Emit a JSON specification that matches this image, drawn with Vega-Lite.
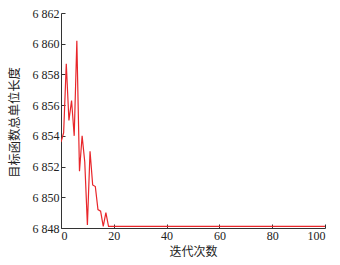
{
  "$schema": "https://vega.github.io/schema/vega-lite/v6.json",
  "width": 264,
  "height": 215,
  "autosize": {"type": "none"},
  "padding": {"left": 61, "top": 13, "right": 15, "bottom": 37},
  "background": "white",
  "config": {"view": {"stroke": null}},
  "data": {"values": [
    {"iter": 0, "len": 6853.6},
    {"iter": 1, "len": 6854.2},
    {"iter": 2, "len": 6858.7},
    {"iter": 3, "len": 6855.0},
    {"iter": 4, "len": 6856.3},
    {"iter": 5, "len": 6854.0},
    {"iter": 6, "len": 6860.2},
    {"iter": 7, "len": 6851.7},
    {"iter": 8, "len": 6854.0},
    {"iter": 9, "len": 6852.3},
    {"iter": 10, "len": 6848.2},
    {"iter": 11, "len": 6853.0},
    {"iter": 12, "len": 6850.8},
    {"iter": 13, "len": 6850.7},
    {"iter": 14, "len": 6849.2},
    {"iter": 15, "len": 6849.1},
    {"iter": 16, "len": 6848.1},
    {"iter": 17, "len": 6849.0},
    {"iter": 18, "len": 6848.1},
    {"iter": 19, "len": 6848.1},
    {"iter": 20, "len": 6848.1},
    {"iter": 30, "len": 6848.1},
    {"iter": 40, "len": 6848.1},
    {"iter": 50, "len": 6848.1},
    {"iter": 60, "len": 6848.1},
    {"iter": 70, "len": 6848.1},
    {"iter": 80, "len": 6848.1},
    {"iter": 90, "len": 6848.1},
    {"iter": 100, "len": 6848.1}
  ]},
  "mark": {"type": "line", "color": "#e8262a", "strokeWidth": 1.2, "clip": true},
  "encoding": {
    "x": {
      "field": "iter", "type": "quantitative",
      "scale": {"domain": [0, 100], "nice": false},
      "axis": {
        "title": "迭代次数", "values": [0, 20, 40, 60, 80, 100],
        "grid": false, "domainColor": "#333", "tickColor": "#333", "tickSize": -4,
        "labelFont": "Liberation Serif", "labelFontSize": 12, "labelColor": "#222", "labelPadding": 6,
        "titleFont": "Noto Sans CJK SC", "titleFontSize": 12, "titleFontWeight": "normal", "titleColor": "#222",
        "titlePadding": 5
      }
    },
    "y": {
      "field": "len", "type": "quantitative",
      "scale": {"domain": [6848, 6862], "nice": false, "zero": false},
      "axis": {
        "title": "目标函数总单位长度", "values": [6848, 6850, 6852, 6854, 6856, 6858, 6860, 6862],
        "labelExpr": "replace(format(datum.value, ','), ',', ' ')",
        "grid": false, "domainColor": "#333", "tickColor": "#333", "tickSize": -4,
        "labelFont": "Liberation Serif", "labelFontSize": 12, "labelColor": "#222", "labelPadding": 6,
        "titleFont": "Noto Sans CJK SC", "titleFontSize": 12.3, "titleFontWeight": "normal", "titleColor": "#222",
        "titleX": -47, "titleY": 109, "titleAngle": -90, "titleBaseline": "middle", "titleAlign": "center"
      }
    }
  }
}
